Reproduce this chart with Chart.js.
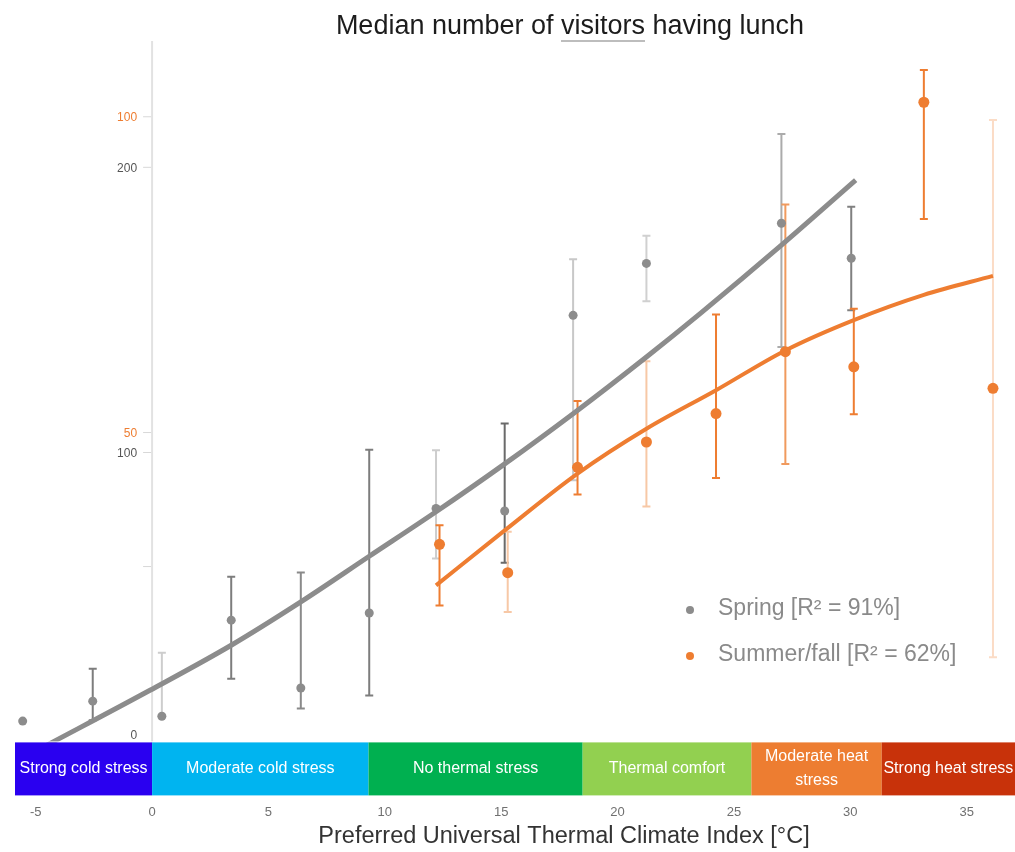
<!DOCTYPE html>
<html>
<head>
<meta charset="utf-8">
<script src="https://cdn.jsdelivr.net/npm/chart.js@4/dist/chart.umd.min.js"></script>
<style>
html,body{margin:0;padding:0;background:#fff}
#wrap{width:1015px;height:852px}
</style>
</head>
<body>
<div id="wrap"><canvas id="myChart"></canvas></div>
<script>
// spring (grey) medians with spread
const springX      = [-5.56, -2.55, 0.42, 3.40, 6.39, 9.33, 12.20, 15.15, 18.09, 21.24, 27.04, 30.04];
const springMedian = [5.8, 12.8, 7.5, 41.2, 17.4, 43.7, 80.4, 79.5, 148.1, 166.3, 180.4, 168.1];
const springLow    = [5.8, 6.1, 7.5, 20.7, 10.2, 14.8, 62.8, 61.3, 90.3, 153.0, 137.0, 149.9];
const springHigh   = [5.8, 24.2, 29.8, 56.4, 57.9, 101.0, 100.8, 110.2, 167.8, 176.0, 211.7, 186.2];

// summer/fall (orange), own axis
const summerX      = [12.35, 15.28, 18.28, 21.24, 24.23, 27.21, 30.15, 33.16, 36.13];
const summerMedian = [32.3, 27.8, 44.5, 48.5, 53.0, 62.8, 60.4, 102.3, 57.0];
const summerLow    = [22.6, 21.6, 40.2, 38.3, 42.8, 45.0, 52.9, 83.8, 14.4];
const summerHigh   = [35.3, 34.3, 55.0, 61.3, 68.7, 86.1, 69.6, 107.4, 99.5];

// fitted curves
const springFitX = [-4.6, -0.09, 3.4, 6.39, 9.33, 12.2, 15.15, 18.09, 21.24, 23.56, 27.04, 30.23];
const springFitY = [-3.0, 16.6, 32.4, 47.6, 63.6, 79.2, 96.0, 113.6, 133.5, 148.8, 172.7, 195.5];
const summerFitX = [12.2, 15.15, 18.28, 21.24, 24.23, 27.21, 30.15, 33.16, 36.13];
const summerFitY = [25.8, 34.5, 43.5, 50.6, 56.7, 63.0, 67.8, 71.8, 74.8];

const xTicks = [-5, 0, 5, 10, 15, 20, 25, 30, 35];
const springTicks = [0, 60, 100, 200];
const springTickLabels = ['0', '', '100', '200'];
const summerTicks = [50, 100];

const bandNames = ['Strong cold stress', 'Moderate cold stress', 'No thermal stress', 'Thermal comfort', 'Moderate heat\nstress', 'Strong heat stress'];
const bandEdges = [-6, 0, 9.3, 18.5, 25.75, 31.35, 38];
const bandColors = ['#2a00f0', '#00b4f0', '#00b050', '#92d050', '#ed7d31', '#c8320a'];

const springErrColor = ['#8a8a8a', '#7d7d7d', '#cdcdcd', '#7d7d7d', '#8a8a8a', '#7d7d7d', '#cdcdcd', '#6a6a6a', '#c8c8c8', '#d0d0d0', '#ababab', '#808080'];
const summerErrColor = ['#ee7d31', '#f7c8a6', '#ee7d31', '#f7c8a6', '#ee7d31', '#f09a5e', '#ee7d31', '#ee7d31', '#fbdcc6'];

const GREY = '#8c8c8c';
const ORANGE = '#ee7d31';
const FONT = "'Liberation Sans', Arial, sans-serif";
const BAND_H = 53;

function pts(xs, ys) { return xs.map((x, i) => ({x: x, y: ys[i]})); }

const errorBars = {
  id: 'errorBars',
  beforeDatasetsDraw(chart) {
    const {ctx, scales, chartArea} = chart;
    const x = scales.x;
    const draw = (xs, lo, hi, cols, ys) => {
      for (let i = 0; i < xs.length; i++) {
        if (hi[i] === lo[i]) continue;
        const px = x.getPixelForValue(xs[i]);
        const top = ys.getPixelForValue(hi[i]);
        const bot = ys.getPixelForValue(lo[i]);
        ctx.strokeStyle = cols[i];
        ctx.lineWidth = 2;
        ctx.beginPath();
        ctx.moveTo(px, top); ctx.lineTo(px, bot);
        ctx.moveTo(px - 4, top); ctx.lineTo(px + 4, top);
        ctx.moveTo(px - 4, bot); ctx.lineTo(px + 4, bot);
        ctx.stroke();
      }
    };
    ctx.save();
    // y axis line sits at x = 0
    const ax = x.getPixelForValue(0);
    ctx.strokeStyle = '#e2e2e2';
    ctx.lineWidth = 2;
    ctx.beginPath();
    ctx.moveTo(ax, chartArea.top); ctx.lineTo(ax, chartArea.bottom - BAND_H);
    ctx.stroke();
    ctx.font = '12px ' + FONT;
    ctx.textAlign = 'right';
    ctx.textBaseline = 'middle';
    ctx.lineWidth = 1;
    springTicks.forEach((v, i) => {
      const py = scales.y.getPixelForValue(v);
      if (v > 0) {
        ctx.strokeStyle = '#d8d8d8';
        ctx.beginPath(); ctx.moveTo(ax - 9, py); ctx.lineTo(ax - 1, py); ctx.stroke();
      }
      ctx.fillStyle = '#555';
      ctx.fillText(springTickLabels[i], ax - 15, v === 0 ? py - 2 : py + 1);
    });
    summerTicks.forEach(v => {
      const py = scales.y2.getPixelForValue(v);
      ctx.strokeStyle = '#d8d8d8';
      ctx.beginPath(); ctx.moveTo(ax - 9, py); ctx.lineTo(ax - 1, py); ctx.stroke();
      ctx.fillStyle = ORANGE;
      ctx.fillText(String(v), ax - 15, py + 1);
    });
    draw(springX, springLow, springHigh, springErrColor, scales.y);
    draw(summerX, summerLow, summerHigh, summerErrColor, scales.y2);
    ctx.restore();
  }
};

const decorations = {
  id: 'decorations',
  afterDraw(chart) {
    const {ctx, chartArea, scales} = chart;
    const x = scales.x;
    ctx.save();
    // thermal stress band at the foot of the plot, runs to the canvas edge
    const top = chartArea.bottom - BAND_H;
    ctx.fillStyle = '#fff';
    ctx.fillRect(chartArea.left, top - 1, chart.width - chartArea.left, 1);
    ctx.font = '16px ' + FONT;
    ctx.textAlign = 'center';
    ctx.textBaseline = 'middle';
    for (let i = 0; i < bandNames.length; i++) {
      const l = Math.max(x.getPixelForValue(bandEdges[i]), chartArea.left);
      const r = Math.min(x.getPixelForValue(bandEdges[i + 1]), chart.width);
      ctx.fillStyle = bandColors[i];
      ctx.fillRect(l, top, r - l, BAND_H);
      ctx.fillStyle = '#fff';
      const lines = bandNames[i].split('\n');
      lines.forEach((t, k) => {
        ctx.fillText(t, (l + r) / 2, top + BAND_H / 2 + (k - (lines.length - 1) / 2) * 24);
      });
    }
    // title with the underlined word
    const title = 'Median number of visitors having lunch';
    ctx.font = '27px ' + FONT;
    ctx.fillStyle = '#1c1c1c';
    ctx.textAlign = 'left';
    const tw = ctx.measureText(title).width;
    const tx = 570 - tw / 2;
    ctx.fillText(title, tx, 27);
    const pre = ctx.measureText('Median number of ').width;
    const word = ctx.measureText('visitors').width;
    ctx.strokeStyle = '#bdbdbd';
    ctx.lineWidth = 2;
    ctx.beginPath(); ctx.moveTo(tx + pre, 41); ctx.lineTo(tx + pre + word, 41); ctx.stroke();
    // x axis title
    ctx.font = '23.5px ' + FONT;
    ctx.fillStyle = '#333';
    ctx.textAlign = 'center';
    ctx.fillText('Preferred Universal Thermal Climate Index [°C]', 564, 837);
    // legend
    const items = [['Spring [R\u00b2 = 91%]', GREY, 609], ['Summer/fall [R\u00b2 = 62%]', ORANGE, 655]];
    ctx.font = '23px ' + FONT;
    ctx.textAlign = 'left';
    items.forEach(([t, c, y]) => {
      ctx.fillStyle = c;
      ctx.beginPath(); ctx.arc(690, y + 1, 4, 0, Math.PI * 2); ctx.fill();
      ctx.fillStyle = '#8a8a8a';
      ctx.fillText(t, 718, y);
    });
    ctx.restore();
  }
};

const ctx = document.getElementById('myChart').getContext('2d');
const myChart = new Chart(ctx, {
  type: 'scatter',
  data: {
    datasets: [
      {
        label: 'Spring fit',
        data: pts(springFitX, springFitY),
        yAxisID: 'y',
        showLine: true,
        pointRadius: 0,
        borderColor: GREY,
        borderWidth: 5,
        cubicInterpolationMode: 'monotone',
        order: 3
      },
      {
        label: 'Summer/fall fit',
        data: pts(summerFitX, summerFitY),
        yAxisID: 'y2',
        showLine: true,
        pointRadius: 0,
        borderColor: ORANGE,
        borderWidth: 4,
        cubicInterpolationMode: 'monotone',
        order: 3
      },
      {
        label: 'Spring',
        data: pts(springX, springMedian),
        yAxisID: 'y',
        pointRadius: 4.5,
        backgroundColor: GREY,
        borderWidth: 0,
        order: 1
      },
      {
        label: 'Summer/fall',
        data: pts(summerX, summerMedian),
        yAxisID: 'y2',
        pointRadius: 5.5,
        backgroundColor: ORANGE,
        borderWidth: 0,
        order: 1
      }
    ]
  },
  options: {
    responsive: true,
    maintainAspectRatio: false,
    animation: false,
    layout: { padding: { top: 41, left: 15, right: 0, bottom: 23 } },
    scales: {
      x: {
        type: 'linear',
        min: -5.89,
        max: 36.84,
        grid: { display: false, drawTicks: false },
        border: { display: false },
        afterBuildTicks: (s) => { s.ticks = xTicks.map(v => ({value: v})); },
        ticks: { color: '#707070', font: { family: FONT, size: 13 }, padding: 9, maxRotation: 0, minRotation: 0, autoSkip: false }
      },
      y: { display: false, min: -20.25, max: 244.3 },
      y2: { display: false, min: -7.46, max: 112 }
    },
    plugins: {
      legend: { display: false },
      title: { display: false },
      tooltip: { enabled: false }
    }
  },
  plugins: [errorBars, decorations]
});
</script>
</body>
</html>
